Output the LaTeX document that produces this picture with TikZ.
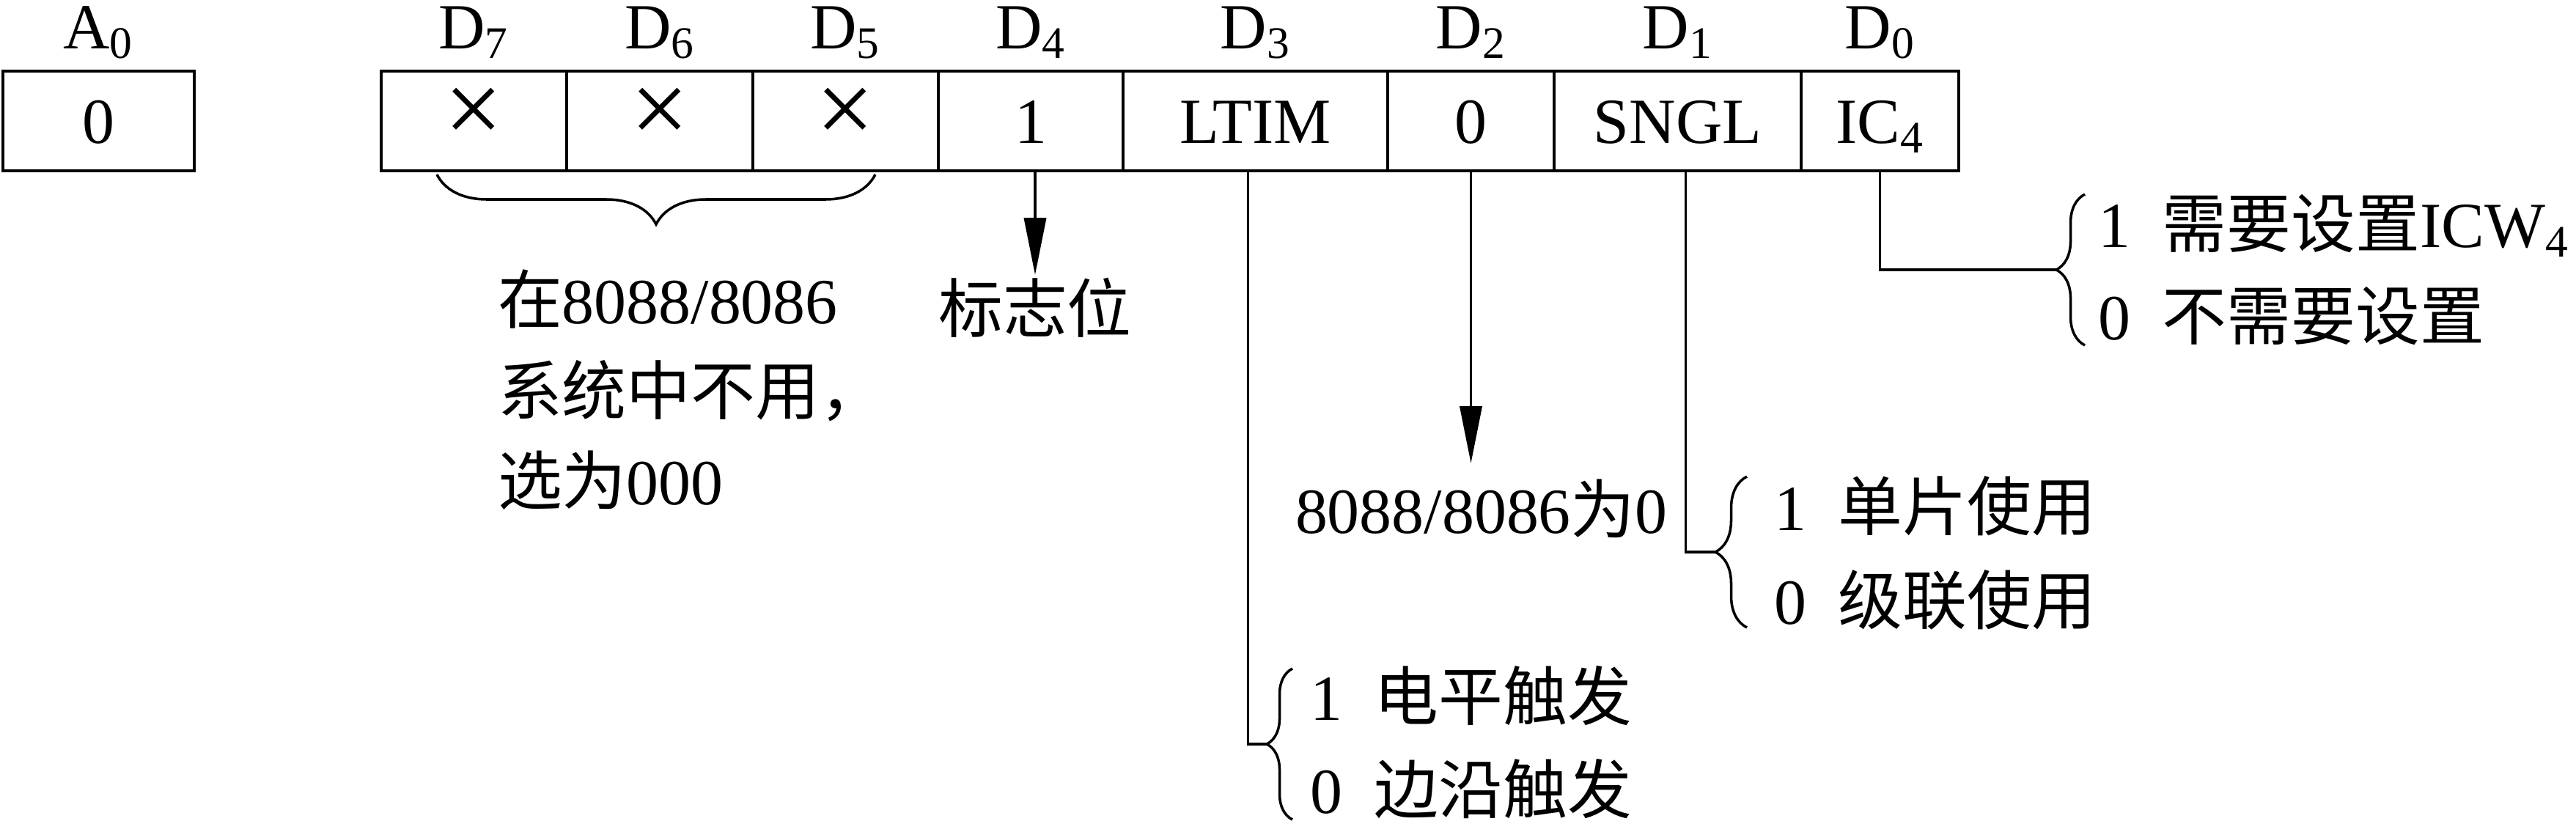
\documentclass[tikz,border=0pt]{standalone}
\usepackage{fontspec}
\setmainfont{Liberation Serif}
\newfontfamily\cjkfont{Noto Sans CJK SC}
\usepackage{tikz}
\usetikzlibrary{positioning, arrows.meta, decorations.pathreplacing}
\newcommand{\zhtext}[1]{{\cjkfont #1}}
\newcommand{\bitx}{{\fontsize{40pt}{40pt}\selectfont ×}}

\begin{document}
\begin{tikzpicture}[thick,
    bit cell/.style={draw,line width=1.2pt,minimum height=1.36cm,inner sep=0pt,outer sep=0pt,
                     text height=0.6cm,text depth=0pt,font=\fontsize{25pt}{30pt}\selectfont},
    bit label/.style={inner sep=0pt,outer sep=0pt,text height=0.57cm,text depth=0.2cm,font=\fontsize{25pt}{30pt}\selectfont},
    note/.style={inner sep=0pt,outer sep=0pt,anchor=base west,font=\fontsize{25pt}{30pt}\selectfont},
    conn/.style={line width=1.1pt},
    flag arrow/.style={line width=1.1pt,-{Triangle[length=7.8mm,width=3mm]}},
    curly/.style={line width=1pt,decorate,decoration={brace,amplitude=#1}}]

  \useasboundingbox (0,0) rectangle (35.14,-11.23);

  \node[bit cell, minimum width=2.61cm, anchor=west] (a0) at (0.04,-1.65) {0};
  \node[bit cell, minimum width=2.53cm] (d7) [right=2.55cm of a0] {\bitx};
  \node[bit cell, minimum width=2.54cm] (d6) [right=0pt of d7] {\bitx};
  \node[bit cell, minimum width=2.53cm] (d5) [right=0pt of d6] {\bitx};
  \node[bit cell, minimum width=2.52cm] (d4) [right=0pt of d5] {1};
  \node[bit cell, minimum width=3.61cm] (d3) [right=0pt of d4] {LTIM};
  \node[bit cell, minimum width=2.27cm] (d2) [right=0pt of d3] {0};
  \node[bit cell, minimum width=3.37cm] (d1) [right=0pt of d2] {SNGL};
  \node[bit cell, minimum width=2.15cm] (d0) [right=0pt of d1] {IC\textsubscript{4}};

  \node[bit label] (la0) [above=0.11cm of a0] {A\textsubscript{0}};
  \node[bit label] (ld7) [above=0.11cm of d7] {D\textsubscript{7}};
  \node[bit label] (ld6) [above=0.11cm of d6] {D\textsubscript{6}};
  \node[bit label] (ld5) [above=0.11cm of d5] {D\textsubscript{5}};
  \node[bit label] (ld4) [above=0.11cm of d4] {D\textsubscript{4}};
  \node[bit label] (ld3) [above=0.11cm of d3] {D\textsubscript{3}};
  \node[bit label] (ld2) [above=0.11cm of d2] {D\textsubscript{2}};
  \node[bit label] (ld1) [above=0.11cm of d1] {D\textsubscript{1}};
  \node[bit label] (ld0) [above=0.11cm of d0] {D\textsubscript{0}};

  % D7..D5 unused
  \draw[curly=0.68cm] ([shift={(-0.86,-0.05)}]d5.south east) -- ([shift={(0.76,-0.05)}]d7.south west);
  \node[note] (unused1) at (6.79,-4.41) {\zhtext{在}8088/8086};
  \node[note] (unused2) at (6.79,-5.65) {\zhtext{系统中不用，}};
  \node[note] (unused3) at (6.79,-6.88) {\zhtext{选为}000};

  % D4 flag
  \node[note, anchor=base, text height=0.78cm] (flag) at ([xshift=0.06cm,yshift=-2.20cm]d4.south) {\zhtext{标志位}};
  \draw[flag arrow] ([xshift=0.06cm]d4.south) -- (flag.north);

  % D2
  \node[note, text height=0.95cm] (zero) at (17.67,-7.27) {8088/8086\zhtext{为}0};
  \draw[flag arrow] (d2.south) -- (d2.south |- zero.north);

  % D3 LTIM
  \coordinate (d3tip) at (17.28,-10.15);
  \draw[conn] ([xshift=-0.1cm]d3.south) |- (d3tip);
  \draw[curly=0.35cm] ([shift={(0.35,-1.03)}]d3tip) -- ([shift={(0.35,1.03)}]d3tip);
  \node[note] (ltim1) at ([shift={(0.59,0.33)}]d3tip) {1\enspace\zhtext{电平触发}};
  \node[note] (ltim0) at ([shift={(0.59,-0.94)}]d3tip) {0\enspace\zhtext{边沿触发}};

  % D1 SNGL
  \coordinate (d1tip) at (23.40,-7.53);
  \draw[conn] ([xshift=0.11cm]d1.south) |- (d1tip);
  \draw[curly=0.43cm] ([shift={(0.43,-1.03)}]d1tip) -- ([shift={(0.43,1.03)}]d1tip);
  \node[note] (sngl1) at ([shift={(0.80,0.30)}]d1tip) {1\enspace\zhtext{单片使用}};
  \node[note] (sngl0) at ([shift={(0.80,-0.98)}]d1tip) {0\enspace\zhtext{级联使用}};

  % D0 IC4
  \coordinate (d0tip) at (28.05,-3.68);
  \draw[conn] (d0.south) |- (d0tip);
  \draw[curly=0.39cm] ([shift={(0.39,-1.03)}]d0tip) -- ([shift={(0.39,1.03)}]d0tip);
  \node[note] (ic1) at ([shift={(0.57,0.31)}]d0tip) {1\enspace\zhtext{需要设置}ICW\textsubscript{4}};
  \node[note] (ic0) at ([shift={(0.57,-0.95)}]d0tip) {0\enspace\zhtext{不需要设置}};
\end{tikzpicture}
\end{document}
